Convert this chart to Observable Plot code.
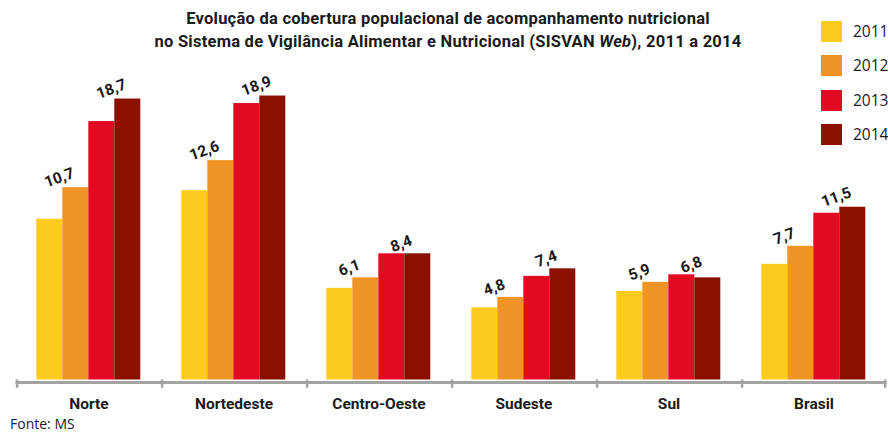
<!DOCTYPE html>
<html>
<head>
<meta charset="utf-8">
<script src="https://cdn.jsdelivr.net/npm/d3@7"></script>
<script src="https://cdn.jsdelivr.net/npm/@observablehq/plot@0.6"></script>
<style>
  html, body { margin: 0; padding: 0; background: #fff; }
  #wrap { position: relative; width: 888px; height: 432px; overflow: hidden; font-family: Roboto, sans-serif; }
  #chart { position: absolute; left: 0; top: 0; }
  #title { position: absolute; left: 0; top: 7px; width: 896px; text-align: center; font: 700 16.5px/23px Roboto, sans-serif; letter-spacing: 0.25px; color: #1a1a1a; }
  #legend { position: absolute; left: 821px; top: 21px; }
  .li { display: flex; align-items: center; height: 21px; margin-bottom: 13.3px; }
  .sw { width: 21px; height: 21px; margin-right: 11px; }
  .lt { font: 400 15.5px/21px "Open Sans", sans-serif; color: #1a1a1a; }
  #source { position: absolute; left: 10px; top: 416px; font: 400 14px/16px "Open Sans", sans-serif; color: #1a1a1a; }
  #chart svg [aria-label^="fx-axis"] text { font: 700 15.5px Roboto, sans-serif; fill: #1a1a1a; }
</style>
</head>
<body>
<div id="wrap">
  <div id="chart"></div>
  <div id="title">Evolução da cobertura populacional de acompanhamento nutricional<br>no Sistema de Vigilância Alimentar e Nutricional (SISVAN <i>Web</i>), 2011 a 2014</div>
  <div id="legend"></div>
  <div id="source">Fonte: MS</div>
</div>
<script>
const regions = ["Norte", "Nortedeste", "Centro-Oeste", "Sudeste", "Sul", "Brasil"];
const years = ["2011", "2012", "2013", "2014"];
const v2011 = [10.7, 12.6, 6.1, 4.8, 5.9, 7.7];
const v2012 = [12.8, 14.6, 6.8, 5.5, 6.5, 8.9];
const v2013 = [17.2, 18.4, 8.4, 6.9, 7.0, 11.1];
const v2014 = [18.7, 18.9, 8.4, 7.4, 6.8, 11.5];
const colors = ["#FDCB1E", "#F19428", "#E20A23", "#8A1000"];

const series = [v2011, v2012, v2013, v2014];
const rows = [];
regions.forEach((r, i) => years.forEach((y, j) => rows.push({region: r, year: y, value: series[j][i]})));

// value labels: 2011 value (placed at the 2011/2012 edge) and 2014 value (at the 2013/2014 edge)
const fmt = v => v.toFixed(1).replace(".", ",");
const labels = [];
regions.forEach((r, i) => {
  labels.push({region: r, year: "2012", top: Math.max(v2011[i], v2012[i]), text: fmt(v2011[i])});
  labels.push({region: r, year: "2014", top: Math.max(v2013[i], v2014[i]), text: fmt(v2014[i])});
});

const axisColor = "#a3a3a3";
const plot = Plot.plot({
  width: 888,
  height: 432,
  marginLeft: 13.7,
  marginRight: 0.7,
  marginTop: 79,
  marginBottom: 52.5,
  fx: {domain: regions, paddingInner: 0.265, paddingOuter: 0.1325, label: null, axis: "bottom", tickSize: 0, tickPadding: 18},
  x: {domain: years, padding: 0, axis: null},
  y: {domain: [0, 20], axis: null},
  color: {domain: years, range: colors},
  style: {fontFamily: "Roboto, sans-serif", fontSize: "15px", color: "#1a1a1a", background: "transparent"},
  marks: [
    Plot.barY(rows, {fx: "region", x: "year", y: "value", fill: "year"}),
    Plot.ruleY(regions, {fx: d => d, y: () => 0, stroke: axisColor, strokeWidth: 3, dy: 2.5, insetLeft: -19.5, insetRight: -19.5}),
    Plot.ruleX(regions.map(r => ({region: r, year: "2011"})), {fx: "region", x: "year", y1: () => 0, y2: () => -0.55, stroke: axisColor, strokeWidth: 2.5, dx: -32.7}),
    Plot.ruleX([{region: "Brasil", year: "2014"}], {fx: "region", x: "year", y1: () => 0, y2: () => -0.55, stroke: axisColor, strokeWidth: 2.5, dx: 32.4}),
    Plot.text(labels, {fx: "region", x: "year", y: "top", text: "text", dx: -16.5, dy: -10, rotate: -20, fontWeight: 700, fontSize: 15.5, fill: "#1a1a1a"})
  ]
});
document.getElementById("chart").appendChild(plot);

const leg = document.getElementById("legend");
years.forEach((y, j) => {
  const d = document.createElement("div");
  d.className = "li";
  d.innerHTML = `<div class="sw" style="background:${colors[j]}"></div><span class="lt">${y}</span>`;
  leg.appendChild(d);
});
</script>
</body>
</html>
